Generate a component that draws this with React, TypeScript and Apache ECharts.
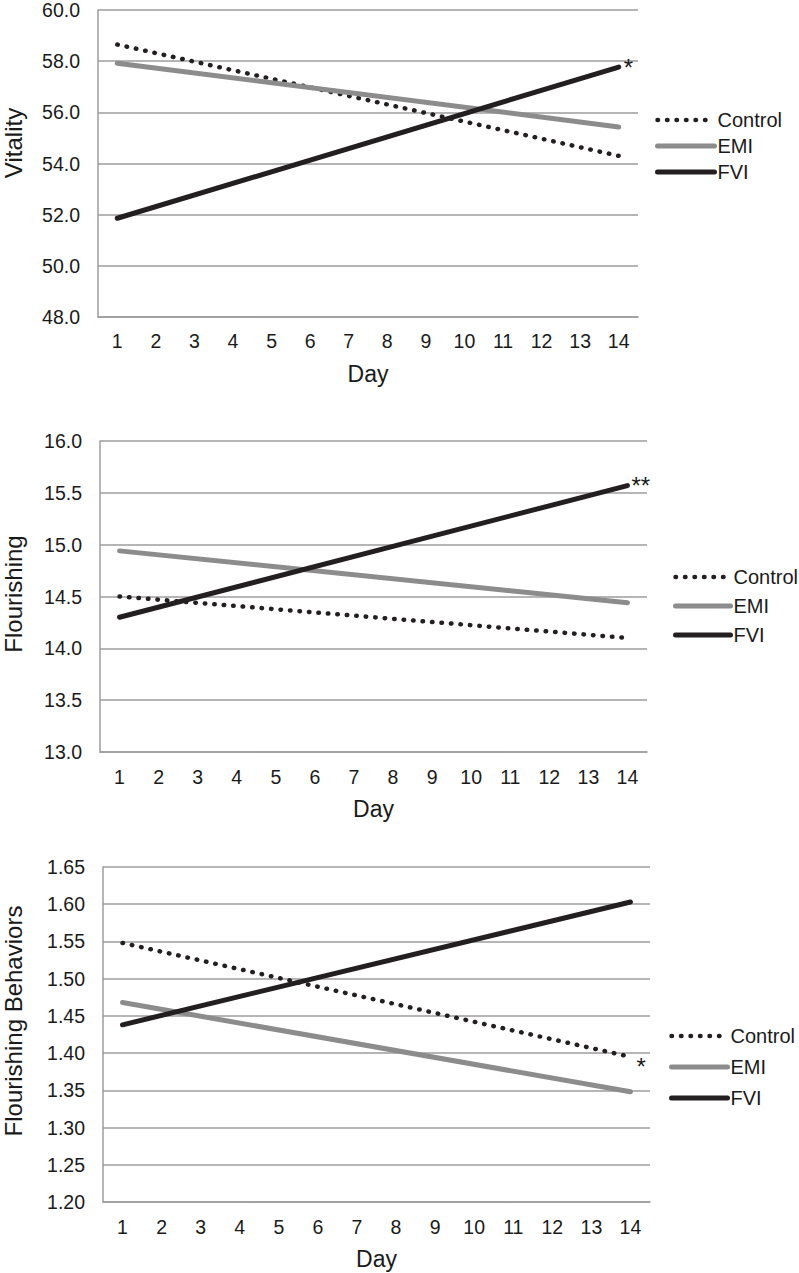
import React, { useEffect, useRef } from "react";
import * as echarts from "echarts";

const days = ["1", "2", "3", "4", "5", "6", "7", "8", "9", "10", "11", "12", "13", "14"];
const groupNames = ["Control", "EMI", "FVI"];

// start (day 1) and end (day 14) values
const vitalityControl = [58.65, 54.3];
const vitalityEMI = [57.92, 55.43];
const vitalityFVI = [51.86, 57.77];

const flourishingControl = [14.5, 14.1];
const flourishingEMI = [14.94, 14.44];
const flourishingFVI = [14.3, 15.57];

const behaviorsControl = [1.548, 1.395];
const behaviorsEMI = [1.468, 1.348];
const behaviorsFVI = [1.438, 1.603];

const vitalityTicks = { min: 48, max: 60, interval: 2, decimals: 1 };
const flourishingTicks = { min: 13, max: 16, interval: 0.5, decimals: 1 };
const behaviorsTicks = { min: 1.2, max: 1.65, interval: 0.05, decimals: 2 };

const panelTitles = ["Vitality", "Flourishing", "Flourishing Behaviors"];
// significance marks: [panel, group, mark]
const significance: [number, string, string][] = [
  [0, "FVI", "*"],
  [1, "FVI", "**"],
  [2, "Control", "*"],
];

const FONT = "'Liberation Sans', Arial, Helvetica, sans-serif";
const TEXT = "#1a1a1a";
const GRID = "#9d9d9d";

function dayRow(pair: number[]) {
  const row: (number | null)[] = days.map(() => null);
  row[0] = pair[0];
  row[days.length - 1] = pair[1];
  return row;
}

const grids = [
  { left: 98, top: 8, width: 540, height: 309 },
  { left: 100, top: 441, width: 547, height: 311 },
  { left: 103, top: 867, width: 547, height: 335 },
];
const xLabelMargins = [14, 15, 15];
const legends = [
  { left: 655, top: 110, gap: 6, w: 57 },
  { left: 673, top: 567, gap: 9, w: 55 },
  { left: 669, top: 1026, gap: 11, w: 56 },
];
const yTitles = [
  { x: 13, y: 143 },
  { x: 13, y: 594 },
  { x: 13, y: 1021 },
];
const markOffsets: Record<number, number[]> = {
  0: [2, 0],
  1: [1, 0],
  2: [3, 10],
};

const styles: Record<string, any> = {
  Control: { color: "#231f20", width: 4.5, type: [0.5, 9], cap: "round" },
  EMI: { color: "#8c8c8c", width: 5, type: "solid", cap: "round" },
  FVI: { color: "#231f20", width: 5, type: "solid", cap: "round" },
};

export default function App() {
  const ref = useRef<HTMLDivElement>(null);
  useEffect(() => {
    if (!ref.current) return;
    const chart = echarts.init(ref.current, undefined, { renderer: "svg" });
    const panelData = [
      [vitalityControl, vitalityEMI, vitalityFVI],
      [flourishingControl, flourishingEMI, flourishingFVI],
      [behaviorsControl, behaviorsEMI, behaviorsFVI],
    ];
    const ticks = [vitalityTicks, flourishingTicks, behaviorsTicks];

    const series: any[] = [];
    panelData.forEach((rows, p) => {
      rows.forEach((pair, g) => {
        const name = groupNames[g];
        const sig = significance.find((s) => s[0] === p && s[1] === name);
        series.push({
          type: "line",
          name,
          xAxisIndex: p,
          yAxisIndex: p,
          data: dayRow(pair),
          connectNulls: true,
          symbol: "none",
          silent: true,
          color: styles[name].color,
          lineStyle: styles[name],
          endLabel: sig
            ? {
                show: true,
                formatter: sig[2],
                distance: 3,
                offset: markOffsets[p],
                fontSize: 24,
                fontFamily: FONT,
                color: TEXT,
              }
            : { show: false },
        });
      });
    });

    chart.setOption({
      animation: false,
      grid: grids.map((g) => ({ ...g, containLabel: false })),
      xAxis: grids.map((_, i) => ({
        type: "category",
        gridIndex: i,
        data: days,
        boundaryGap: true,
        axisTick: { show: false },
        axisLine: { show: true, lineStyle: { color: GRID, width: 1.5 } },
        axisLabel: { fontSize: 19.5, margin: xLabelMargins[i], color: TEXT, fontFamily: FONT, interval: 0 },
        name: "Day",
        nameLocation: "middle",
        nameGap: 45,
        nameTextStyle: { fontSize: 23, color: TEXT, fontFamily: FONT },
      })),
      yAxis: ticks.map((t, i) => ({
        type: "value",
        gridIndex: i,
        min: t.min,
        max: t.max,
        interval: t.interval,
        axisTick: { show: false },
        axisLine: { show: true, lineStyle: { color: GRID, width: 1.5 } },
        splitLine: { show: true, lineStyle: { color: GRID, width: 1.5 } },
        axisLabel: {
          fontSize: 19.5,
          margin: 18,
          color: TEXT,
          fontFamily: FONT,
          formatter: (v: number) => v.toFixed(t.decimals),
        },
      })),
      legend: legends.map((l) => ({
        data: groupNames.map((n) => ({
          name: n,
          itemStyle: { color: "rgba(0,0,0,0)", borderWidth: 0, borderColor: "rgba(0,0,0,0)" },
          lineStyle: {
            width: styles[n].width,
            type: styles[n].type,
            cap: "round",
            color: styles[n].color,
          },
        })),
        orient: "vertical",
        left: l.left,
        top: l.top,
        itemWidth: l.w,
        itemHeight: 20,
        itemGap: l.gap,
        padding: 0,
        selectedMode: false,
        textStyle: { fontSize: 20, color: TEXT, fontFamily: FONT, padding: [0, 0, 0, -2], lineHeight: 20 },
      })),
      graphic: yTitles.map((pos, i) => ({
        type: "text",
        x: pos.x,
        y: pos.y,
        rotation: Math.PI / 2,
        style: {
          text: panelTitles[i],
          align: "center",
          verticalAlign: "middle",
          fontSize: 24,
          fontFamily: FONT,
          fill: TEXT,
        },
      })),
      series,
    });
    return () => chart.dispose();
  }, []);
  return (
    <div
      ref={ref}
      style={{ position: "absolute", left: 0, top: 0, width: 799, height: 1273, background: "#fff" }}
    />
  );
}
